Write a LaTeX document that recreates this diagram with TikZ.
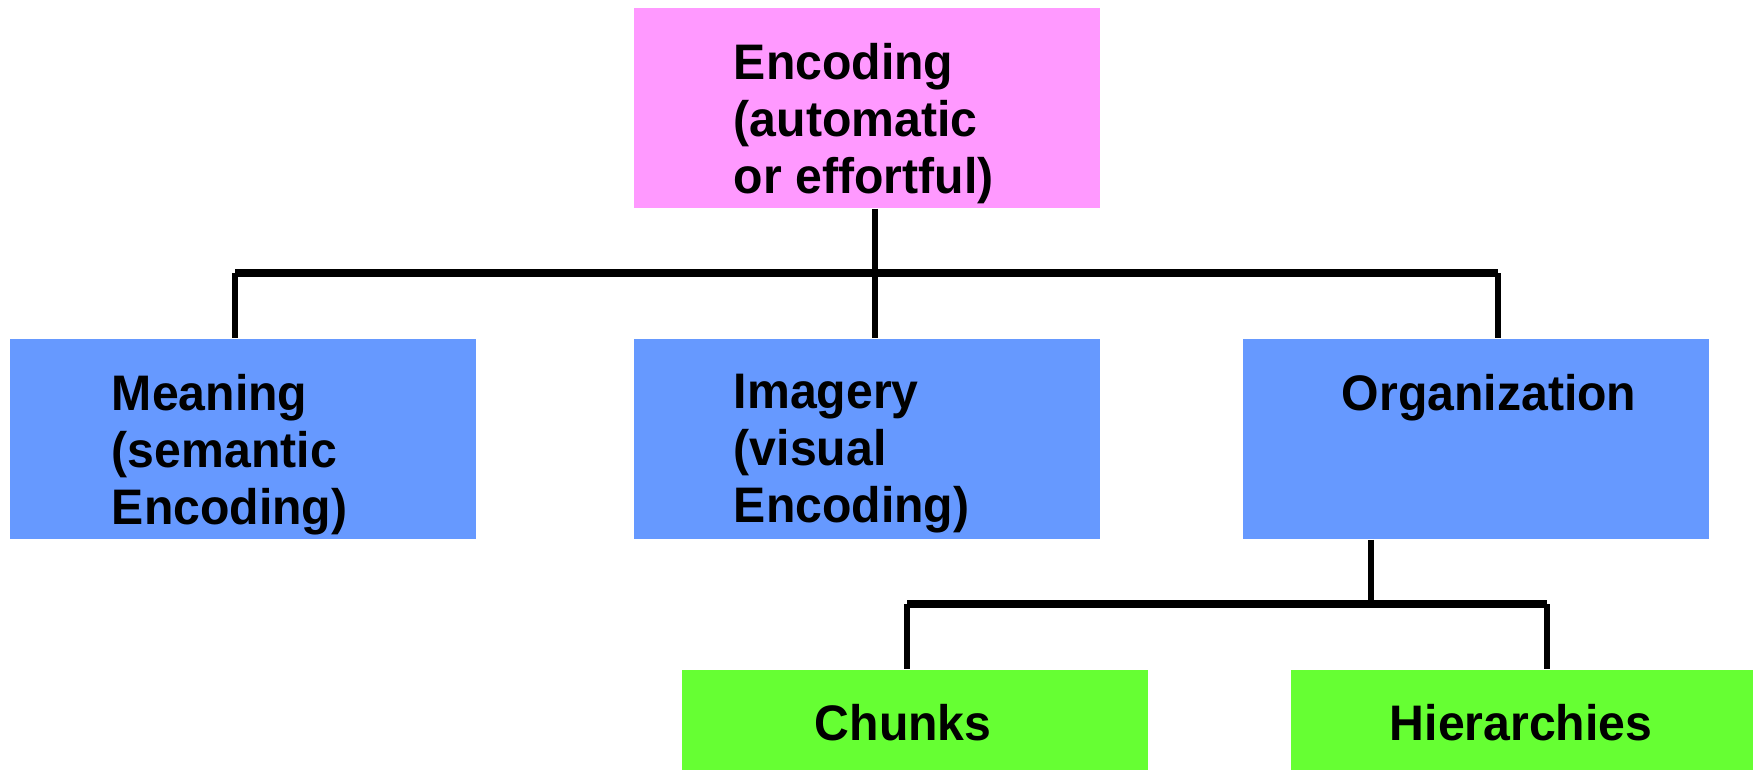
\documentclass[tikz,border=0pt]{standalone}
\usepackage{fontspec}
\setmainfont{Liberation Sans}[FakeStretch=0.965]
\definecolor{encpink}{HTML}{FF99FF}
\definecolor{levblue}{HTML}{6699FF}
\definecolor{subgreen}{HTML}{66FF33}
\begin{document}
\begin{tikzpicture}[x=0.01cm,y=-0.01cm,
  box/.style={rectangle,inner sep=0pt,minimum width=4.66cm,minimum height=2cm},
  txt/.style={inner sep=0pt,align=left,font=\fontsize{14.2}{16.3}\selectfont\bfseries},
  link/.style={line width=0.06cm},
  bar/.style={line width=0.08cm}]

       \useasboundingbox (0,0) rectangle (1753,769);
       \clip (0,0) rectangle (1753,769);

       \node[box,fill=encpink] (enc) at (867,108) {};
       \node[box,fill=levblue] (mean) at (243,439) {};
       \node[box,fill=levblue] (img) at (867,439) {};
       \node[box,fill=levblue] (org) at (1476,439) {};
       \node[box,fill=subgreen] (chunk) at (915,770) {};
       \node[box,fill=subgreen] (hier) at (1524,770) {};

       \node[txt,anchor=north west] (enct) at ([shift={(100,35)}]enc.north west) {Encoding\\(automatic\\or effortful)};
       \node[txt,anchor=north west] (meant) at ([shift={(102,35)}]mean.north west) {Meaning\\(semantic\\Encoding)};
       \node[txt,anchor=north west] (imgt) at ([shift={(100,35)}]img.north west) {Imagery\\(visual\\Encoding)};
       \node[txt,anchor=north west] (orgt) at ([shift={(99,35)}]org.north west) {Organization};
       \node[txt,anchor=base west] (chunkt) at ([shift={(133,71)}]chunk.north west) {Chunks};
       \node[txt,anchor=base west] (hiert) at ([shift={(99,71)}]hier.north west) {Hierarchies};

       \coordinate (j1) at (875,273);
       \coordinate (j1l) at (235,273);
       \coordinate (j1r) at (1498,273);
       \coordinate (j2) at (1371,604);
       \coordinate (j2l) at (907,604);
       \coordinate (j2r) at (1547,604);

       \draw[bar] (j1l) -- (j1r);
       \draw[link] (enc.south -| j1) -- (img.north -| j1);
       \draw[link] (j1l) -- (mean.north -| j1l);
       \draw[link] (j1r) -- (org.north -| j1r);

       \draw[bar] (j2l) -- (j2r);
       \draw[link] (org.south -| j2) -- (j2);
       \draw[link] (j2l) -- (chunk.north -| j2l);
       \draw[link] (j2r) -- (hier.north -| j2r);
     \end{tikzpicture}
\end{document}
